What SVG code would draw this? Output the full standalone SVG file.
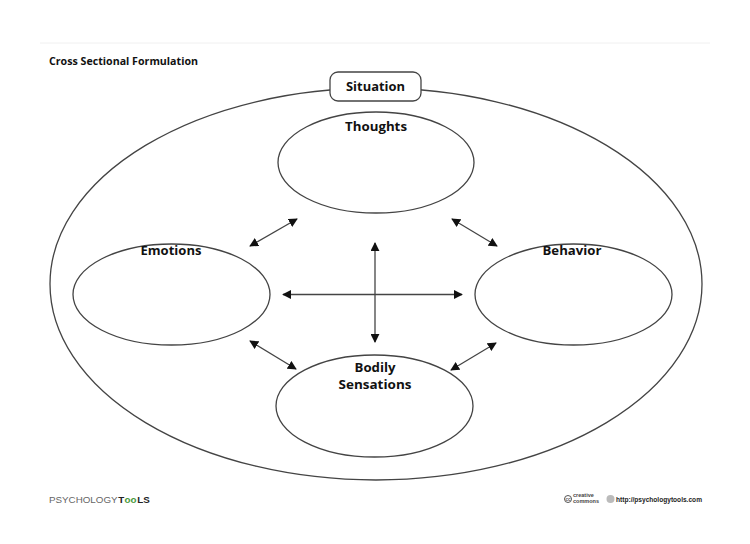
<svg xmlns="http://www.w3.org/2000/svg" width="750" height="544" viewBox="0 0 750 544">
<defs>
<marker id="ah" viewBox="0 0 10 10" refX="9" refY="5" markerWidth="9" markerHeight="9" markerUnits="userSpaceOnUse" orient="auto-start-reverse">
<path d="M0,0 L10,5 L0,10 z" fill="#111"/>
</marker>
<style>
.node{fill:#fff;stroke:#444;stroke-width:1.3}
.lbl{font-family:"Open Sans","Liberation Sans",sans-serif;font-weight:bold;font-size:13px;fill:#111;text-anchor:middle}
.con line{stroke:#444;stroke-width:1.3;marker-start:url(#ah);marker-end:url(#ah)}
.ft{font-family:"Liberation Sans",sans-serif;font-size:9.8px}
</style>
</defs>
<rect width="750" height="544" fill="#fff"/>
<line x1="40" y1="43" x2="710" y2="43" stroke="#f0f0f0" stroke-width="1"/>
<text x="49" y="65" font-family="'Open Sans','Liberation Sans',sans-serif" font-weight="bold" font-size="11" fill="#111" textLength="149" lengthAdjust="spacingAndGlyphs">Cross Sectional Formulation</text>
<g id="outer"><ellipse class="node" cx="376" cy="284" rx="326" ry="196"/></g>
<g id="situation"><rect class="node" x="330" y="72" width="91" height="29" rx="8"/><text class="lbl" x="375.5" y="90.5" textLength="59" lengthAdjust="spacingAndGlyphs">Situation</text></g>
<g id="thoughts"><ellipse class="node" cx="376" cy="162.5" rx="98" ry="50.5"/><text class="lbl" x="376" y="131" textLength="62" lengthAdjust="spacingAndGlyphs">Thoughts</text></g>
<g id="emotions"><ellipse class="node" cx="171.5" cy="294.5" rx="98.5" ry="50.5"/><text class="lbl" x="171" y="255" textLength="61" lengthAdjust="spacingAndGlyphs">Emotions</text></g>
<g id="behavior"><ellipse class="node" cx="573.5" cy="294.5" rx="98.5" ry="50.5"/><text class="lbl" x="572" y="255" textLength="59" lengthAdjust="spacingAndGlyphs">Behavior</text></g>
<g id="bodily"><ellipse class="node" cx="374.5" cy="406" rx="98.5" ry="51"/><text class="lbl" x="375" y="372" textLength="41" lengthAdjust="spacingAndGlyphs">Bodily</text><text class="lbl" x="375" y="389" textLength="73" lengthAdjust="spacingAndGlyphs">Sensations</text></g>
<g id="connectors" class="con">
<line x1="250" y1="246" x2="297" y2="219"/>
<line x1="452" y1="219" x2="497" y2="246"/>
<line x1="250" y1="341" x2="296" y2="369"/>
<line x1="496" y1="343" x2="451" y2="370"/>
<line x1="283" y1="294.5" x2="462" y2="294.5"/>
<line x1="375" y1="243" x2="375" y2="342"/>
</g>
<g id="footer-left">
<text class="ft" x="49" y="503" fill="#666">PSYCHOLOGY</text>
<text class="ft" x="118.2" y="503" font-weight="bold" fill="#222">T</text>
<text class="ft" x="124.6" y="503" font-weight="bold" fill="#4a9a3a">oo</text>
<text class="ft" x="137.2" y="503" font-weight="bold" fill="#222">LS</text>
</g>
<g id="footer-right" font-family="'Liberation Sans',sans-serif">
<circle cx="568" cy="499" r="3.5" fill="none" stroke="#555" stroke-width="1"/>
<text x="568" y="501" font-size="4.5" fill="#555" text-anchor="middle" font-weight="bold">cc</text>
<text x="573" y="497" font-size="5.5" fill="#444" font-weight="bold">creative</text>
<text x="573" y="503" font-size="5.5" fill="#444" font-weight="bold">commons</text>
<circle cx="610.5" cy="499" r="4" fill="#bbb"/>
<text x="616" y="502" font-size="7.5" font-weight="bold" fill="#222" textLength="86" lengthAdjust="spacingAndGlyphs">http://psychologytools.com</text>
</g>
</svg>
